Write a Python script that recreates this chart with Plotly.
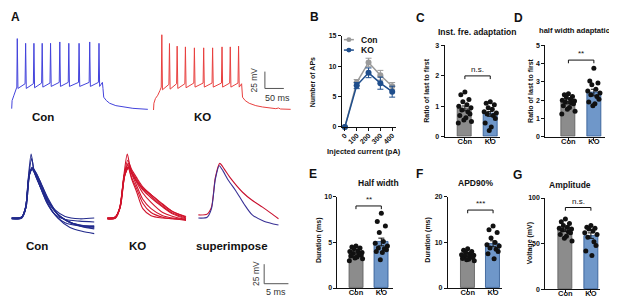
import plotly.graph_objects as go

W, H = 617, 297
FONT = "Liberation Sans, Arial, sans-serif"

# ---------------- DATA ----------------
# Panel A (top): representative spike trains, (time ms, Vm mV) vertices
con_train = [(0, -70), (1, -58), (6, -50), (11, -42), (13.5, -38), (14.7, 34), (16.5, -40),
             (35.3, -33), (36.8, 27), (38.5, -40), (57.2, -33), (58.7, 27), (60.4, -39),
             (79, -32), (80.5, 27), (82.2, -38), (101.1, -32), (102.6, 27), (104.3, -37),
             (125.5, -31), (127, 29), (128.7, -37), (149.3, -31), (150.8, 27), (152.5, -37),
             (176.4, -31), (177.9, 27), (179.6, -37), (204.5, -31), (206, 29), (207.7, -37),
             (229, -31), (230.5, 27), (232.2, -37), (239.5, -31), (241, -40), (243, -53),
             (250, -58), (258.7, -62), (275, -65.5), (293.7, -67.5), (320, -69.5), (359.5, -71)]
ko_train = [(0, -72), (1, -62), (5, -55), (11.3, -50), (17, -43), (20.4, -38), (21.9, 39.7), (23.6, -42),
            (40.6, -34), (42.1, 26.7), (43.8, -41), (60.9, -33), (62.4, 22.8), (64.1, -40),
            (82.7, -33), (84.2, 21.7), (85.9, -39), (106.4, -32), (107.9, 20.3), (109.6, -38),
            (130.9, -32), (132.4, 20.3), (134.1, -38), (154.5, -32), (156, 20.3), (157.7, -38),
            (179.3, -32), (180.8, 21.7), (182.5, -38), (201.1, -32), (202.6, 21.7), (204.3, -38),
            (223, -32), (224.5, 22.8), (226.2, -38), (232.5, -33), (235, -53), (242, -58),
            (252.6, -62), (270, -65.5), (287.6, -67.5), (322.7, -70), (330, -69), (335, -70.5), (362, -71)]

# Panel A (bottom): single action potentials (time ms, Vm mV)
con_aps = [
    [(0, -60), (2.0, -59), (2.8, -50), (3.4, -10), (4.0, 22), (4.6, 0), (5.5, -15), (7, -33), (9, -50), (11, -58), (14, -61), (17, -60)],
    [(0, -61), (2.0, -60), (2.8, -50), (3.4, -12), (4.1, 16), (4.7, -2), (5.5, -14), (7, -35), (9, -52), (11, -62), (14, -70), (17, -73)],
    [(0, -60), (2.0, -59), (2.9, -45), (3.6, -5), (4.2, 5), (5, -2), (6, -15), (7.5, -35), (9.5, -55), (11.5, -64), (14, -69), (17, -71)],
    [(0, -61), (2.0, -60), (2.9, -45), (3.6, -5), (4.2, 4), (5, -4), (6, -18), (7.5, -38), (9.5, -56), (11.5, -64), (14, -69), (17, -72)],
    [(0, -60), (2.1, -59), (3.0, -45), (3.7, -3), (4.3, 3), (5.1, -3), (6.2, -18), (7.8, -40), (10, -58), (12, -66), (14.5, -71), (17, -74)],
    [(0, -61), (2.1, -60), (3.0, -45), (3.7, -4), (4.3, 3), (5.1, -5), (6.2, -20), (7.5, -42), (9.5, -60), (12, -72), (14.5, -77), (17, -80)],
    [(0, -60), (2.0, -59), (2.9, -45), (3.6, -5), (4.2, 2), (5, -6), (6, -22), (7.2, -40), (9, -56), (11, -62), (14, -64), (17, -65)],
    [(0, -60), (2.0, -59), (2.9, -46), (3.6, -6), (4.2, 3), (5, -5), (6, -22), (7.4, -42), (9.2, -58), (11, -66), (14, -70), (17, -70)],
]
ko_aps = [
    [(0, -60), (1.5, -59), (2.5, -48), (3.4, -5), (4.1, 22), (4.7, 5), (5.5, -8), (7.3, -22), (9, -30), (11.4, -42), (13.5, -52), (16.2, -58)],
    [(0, -61), (1.5, -60), (2.5, -48), (3.4, -8), (4.2, 14), (5, 2), (6, -8), (7.3, -20), (9, -30), (11.4, -43), (13.5, -52), (16.2, -59)],
    [(0, -60), (1.6, -59), (2.6, -46), (3.5, -5), (4.3, 10), (5, 0), (6, -10), (7.3, -22), (9, -32), (11.4, -45), (13.5, -54), (16.2, -60)],
    [(0, -61), (1.6, -60), (2.6, -46), (3.5, -5), (4.3, 8), (5, -2), (6, -12), (7.3, -24), (9, -34), (11.4, -46), (13.5, -55), (16.2, -61)],
    [(0, -60), (1.7, -59), (2.7, -45), (3.6, -4), (4.4, 6), (5.1, -3), (6, -14), (7.3, -28), (9, -40), (11.4, -53), (13.5, -58), (16.2, -62)],
    [(0, -61), (1.7, -60), (2.7, -45), (3.6, -5), (4.4, 5), (5.1, -5), (6, -18), (7.3, -36), (9, -48), (11.4, -57), (13.5, -60), (16.2, -62)],
    [(0, -60), (1.6, -59), (2.6, -46), (3.5, -6), (4.3, 5), (5, -8), (6, -22), (7.3, -41), (9, -53), (11.4, -59), (13.5, -61), (16.2, -62)],
    [(0, -61), (1.6, -60), (2.6, -47), (3.5, -8), (4.3, 4), (5, -10), (6, -26), (7.3, -48), (9, -57), (11.4, -60), (13.5, -61), (16.2, -63)],
]
sup_con = [(0, -60), (1.8, -59), (2.7, -48), (3.5, -10), (4.3, 7), (5.1, 0), (6.2, -12), (7.7, -25), (9.4, -42), (11.1, -56), (13.5, -64), (16.5, -69)]
sup_ko = [(0, -56), (1.8, -55), (2.7, -46), (3.5, -8), (4.4, 10), (5.3, 3), (6.5, -8), (9.1, -27), (11, -37), (13.2, -46), (15, -54), (16.5, -61)]

# Panel B: number of APs vs injected current
currents = [0, 100, 200, 300, 400]
aps_con = [0, 7.3, 10.6, 8.5, 6.7]
aps_con_sem = [0, 0.5, 0.7, 0.8, 0.6]
aps_ko = [0, 6.8, 8.9, 7.2, 5.8]
aps_ko_sem = [0, 0.5, 0.8, 1.0, 0.9]

groups = ["Con", "KO"]
# Panel C: inst. frequency adaptation
C_con = [1.47, 1.38, 1.22, 1.15, 1.05, 1.0, 0.95, 0.88, 0.82, 0.75, 0.7, 0.62, 0.55, 0.5, 0.45]
C_ko = [1.15, 1.1, 1.05, 0.95, 0.9, 0.82, 0.78, 0.75, 0.7, 0.6, 0.45, 0.32, 0.2]
C_mean = [0.93, 0.75]
C_sem = [0.08, 0.08]
# Panel D: half width adaptation
D_con = [2.35, 2.3, 2.2, 2.15, 2.05, 2.0, 1.95, 1.9, 1.85, 1.8, 1.7, 1.6, 1.5, 1.4, 1.25]
D_ko = [3.75, 3.05, 2.95, 2.85, 2.6, 2.5, 2.4, 2.3, 2.2, 2.05, 1.9, 1.8, 1.7]
D_mean = [1.87, 2.42]
D_sem = [0.07, 0.18]
# Panel E: half width (ms)
E_con = [4.6, 4.5, 4.4, 4.3, 4.1, 4.0, 3.9, 3.8, 3.75, 3.6, 3.5, 3.4, 3.3, 3.2, 3.0]
E_ko = [8.2, 7.3, 6.8, 6.1, 5.1, 4.9, 4.6, 4.4, 4.3, 4.2, 4.0, 3.9, 3.1]
E_mean = [3.85, 5.05]
E_sem = [0.12, 0.42]
# Panel F: APD90% (ms)
F_con = [8.6, 8.3, 8.0, 7.8, 7.5, 7.3, 7.2, 7.0, 6.9, 6.7, 6.5, 6.3, 6.2, 6.0]
F_ko = [13.6, 12.8, 12.2, 11.0, 10.0, 9.5, 9.2, 8.8, 8.5, 8.0, 7.5, 6.4]
F_mean = [7.1, 9.7]
F_sem = [0.2, 0.65]
# Panel G: amplitude (mV)
G_con = [77, 74, 72, 70, 68, 67, 66, 65, 63, 62, 60, 58, 56, 53]
G_ko = [70, 68, 67, 66, 64, 62, 60, 57, 52, 48, 42, 37]
G_mean = [65.2, 58.8]
G_sem = [1.8, 3.0]

sig_labels = ["n.s.", "**", "**", "***", "n.s."]
sig_heights = [2.0, 4.2, 9.0, 17.1, 89.6]

# ---------------- HELPERS ----------------
def xd(a, b):
    return [a / W, b / W]

def yd(top, bottom):
    return [1 - bottom / H, 1 - top / H]

def px(x):
    return x / W

def py(y):
    return 1 - y / H

fig = go.Figure()
layout = dict(width=W, height=H, margin=dict(l=0, r=0, t=0, b=0),
              paper_bgcolor="white", plot_bgcolor="white", showlegend=False,
              font=dict(family=FONT, color="#111"))
annotations = []
shapes = []

def ann(text, x, y, size, bold=True, angle=0, xanchor="center", color="#111"):
    t = f"<b>{text}</b>" if bold else text
    annotations.append(dict(text=t, x=px(x), y=py(y), xref="paper", yref="paper",
                            showarrow=False, font=dict(size=size, family=FONT, color=color),
                            textangle=angle, xanchor=xanchor, yanchor="middle"))

hidden = dict(visible=False, showgrid=False, zeroline=False, fixedrange=True)

def add_hidden_axes(i, xdom, ydom, xr, yr):
    layout[f"xaxis{i}"] = dict(domain=xdom, range=xr, anchor=f"y{i}", **hidden)
    layout[f"yaxis{i}"] = dict(domain=ydom, range=yr, anchor=f"x{i}", **hidden)

def trace_line(pts, i, color, width, spline=False):
    t = [p[0] for p in pts]
    v = [p[1] for p in pts]
    fig.add_trace(go.Scatter(x=t, y=v, mode="lines", xaxis=f"x{i}", yaxis=f"y{i}",
                             line=dict(color=color, width=width,
                                       shape="spline" if spline else "linear",
                                       smoothing=0.7 if spline else None),
                             hoverinfo="skip", cliponaxis=False))

# ---------------- PANEL A ----------------
top_y = [-78.7, 44.5]
add_hidden_axes(1, xd(0, 140), yd(20, 105), [-4.5, 364], top_y)
add_hidden_axes(2, xd(140, 290), yd(20, 105), [-10.5, 384.2], top_y)
add_hidden_axes(3, xd(0, 90), yd(135, 235), [-0.35, 18.13], [-90, 35])
add_hidden_axes(4, xd(95, 185), yd(135, 235), [-0.55, 17.93], [-90, 35])
add_hidden_axes(5, xd(185, 290), yd(135, 290), [-0.82, 20.74], [-158.75, 35])

trace_line(con_train, 1, "#4343dc", 1.0)
trace_line(ko_train, 2, "#e8403f", 1.0)
for ap in con_aps:
    trace_line(ap, 3, "#222a8c", 1.1, spline=True)
for ap in ko_aps:
    trace_line(ap, 4, "#d0142c", 1.1, spline=True)
trace_line(sup_ko, 5, "#c8102e", 1.1, spline=True)
trace_line(sup_con, 5, "#3a3296", 1.1, spline=True)

# scale bars (25 mV / 50 ms top, 25 mV / 5 ms bottom)
SB_MV = 25
SB_MS_TOP = 50
SB_MS_BOT = 5
sb_top_t0, sb_top_v0 = 294, -40
fig.add_trace(go.Scatter(x=[sb_top_t0, sb_top_t0, sb_top_t0 + SB_MS_TOP],
                         y=[sb_top_v0 + SB_MV, sb_top_v0, sb_top_v0],
                         mode="lines", line=dict(color="#555", width=1),
                         xaxis="x2", yaxis="y2", hoverinfo="skip", cliponaxis=False))
sb_bot_t0, sb_bot_v0 = 13.55, -144.1
fig.add_trace(go.Scatter(x=[sb_bot_t0, sb_bot_t0, sb_bot_t0 + SB_MS_BOT],
                         y=[sb_bot_v0 + SB_MV, sb_bot_v0, sb_bot_v0],
                         mode="lines", line=dict(color="#555", width=1),
                         xaxis="x5", yaxis="y5", hoverinfo="skip", cliponaxis=False))

ann("25 mV", 245, 70, 8.5, bold=False, angle=-90, color="#333")
ann("50 ms", 268, 88, 9, bold=False, color="#333")
ann("25 mV", 246, 268, 8.5, bold=False, angle=-90, color="#333")
ann("5 ms", 267, 287, 9, bold=False, color="#333")
ann("Con", 33, 108, 11.5)
ann("KO", 193, 108, 11.5)
ann("Con", 27, 240, 11.5)
ann("KO", 128, 240, 11.5)
ann("superimpose", 223, 240, 11.5)

# ---------------- AXIS STYLE ----------------
axis_common = dict(showline=True, linecolor="#111", linewidth=1, ticks="outside",
                   ticklen=3, tickwidth=1, tickcolor="#111", showgrid=False,
                   zeroline=False, fixedrange=True,
                   tickfont=dict(size=7, family=FONT, color="#111", weight="bold"))

# ---------------- PANEL B ----------------
layout["xaxis6"] = dict(domain=xd(333, 387), range=[-25, 430], anchor="y6",
                        tickvals=currents, ticktext=[str(c) for c in currents],
                        tickangle=-45, ticklabelstandoff=-2, **axis_common)
layout["yaxis6"] = dict(domain=yd(24.3, 117.7), range=[0, 15], anchor="x6",
                        tickvals=[0, 5, 10, 15], **axis_common)
fig.add_trace(go.Scatter(x=currents, y=aps_con, mode="lines+markers", xaxis="x6", yaxis="y6",
                         line=dict(color="#9a9a9a", width=1.5),
                         marker=dict(size=6, color="#9a9a9a"),
                         error_y=dict(type="data", array=aps_con_sem, color="#9a9a9a",
                                      thickness=1, width=3),
                         cliponaxis=False, name="Con"))
fig.add_trace(go.Scatter(x=currents, y=aps_ko, mode="lines+markers", xaxis="x6", yaxis="y6",
                         line=dict(color="#1f4e8c", width=1.5),
                         marker=dict(size=6, color="#1f4e8c"),
                         error_y=dict(type="data", array=aps_ko_sem, color="#1f4e8c",
                                      thickness=1, width=3),
                         cliponaxis=False, name="KO"))
# legend (drawn)
for yy, col, lab in [(28.3, "#9a9a9a", "Con"), (39, "#1f4e8c", "KO")]:
    shapes.append(dict(type="line", xref="paper", yref="paper", x0=px(335), x1=px(345),
                       y0=py(yy), y1=py(yy), line=dict(color=col, width=1.5)))
    shapes.append(dict(type="circle", xref="paper", yref="paper", x0=px(337.5), x1=px(342.5),
                       y0=py(yy + 2.5), y1=py(yy - 2.5), fillcolor=col, line=dict(color=col, width=0)))
    ann(lab, 350, yy, 8.5, xanchor="left")
ann("Number of APs", 303, 72, 7, angle=-90)
ann("Injected current (pA)", 355, 143, 7.5)

# ---------------- BAR PANELS ----------------
def offsets(n):
    pattern = [0, -0.16, 0.16, -0.08, 0.08, -0.24, 0.24, -0.12, 0.12, 0.2, -0.2, 0.04, -0.04, 0.26, -0.26]
    return pattern[:n]

def bar_panel(i, xpx, ypx, xr, ymax, yticks, con_pts, ko_pts, means, sems, sig, sig_h, title, title_xy, ylab, ylab_xy,
              title_size=8.5):
    layout[f"xaxis{i}"] = dict(domain=xd(*xpx), range=xr, anchor=f"y{i}",
                               tickvals=[0, 1], ticktext=groups, ticklabelstandoff=-6,
                               **{**axis_common, "tickfont": dict(size=7.5, family=FONT, color="#111", weight="bold")})
    layout[f"yaxis{i}"] = dict(domain=yd(*ypx), range=[0, ymax], anchor=f"x{i}",
                               tickvals=yticks, **axis_common)
    fig.add_trace(go.Bar(x=[0, 1], y=means, width=0.55, xaxis=f"x{i}", yaxis=f"y{i}",
                         marker=dict(color=["#8c8c8c", "#6f97c9"],
                                     line=dict(color=["#5a5a5a", "#2b5590"], width=0.8)),
                         error_y=dict(type="data", array=sems, color="#111", thickness=1, width=3)))
    for gi, pts in enumerate([con_pts, ko_pts]):
        xs = [gi + o for o in offsets(len(pts))]
        fig.add_trace(go.Scatter(x=xs, y=pts, mode="markers", xaxis=f"x{i}", yaxis=f"y{i}",
                                 marker=dict(size=5, color="#111"), cliponaxis=False))
    d = ymax * 0.035
    fig.add_trace(go.Scatter(x=[0, 0, 1, 1], y=[sig_h - d, sig_h, sig_h, sig_h - d], mode="lines",
                             xaxis=f"x{i}", yaxis=f"y{i}", line=dict(color="#111", width=1),
                             cliponaxis=False))
    annotations.append(dict(text=sig, x=0.5, y=sig_h, xref=f"x{i}", yref=f"y{i}", showarrow=False,
                            yanchor="bottom", yshift=0,
                            font=dict(size=8, family=FONT, color="#111")))
    ann(title, title_xy[0], title_xy[1], title_size)
    ann(ylab, ylab_xy[0], ylab_xy[1], 7, angle=-90)

bar_panel(7, (436, 492), (34.3, 127.7), [-0.8, 1.40], 3, [0, 1, 2, 3], C_con, C_ko, C_mean, C_sem,
          sig_labels[0], sig_heights[0], "Inst. fre. adaptation", (469, 20), "Ratio of last to first", (417, 81))
bar_panel(8, (537, 597), (34.3, 127.7), [-0.91, 1.44], 5, [0, 1, 2, 3, 4, 5], D_con, D_ko, D_mean, D_sem,
          sig_labels[1], sig_heights[1], "half width adaptation", (569, 19), "Ratio of last to first", (521.5, 81),
          title_size=7.6)
bar_panel(9, (328.5, 384), (189.3, 282.7), [-0.73, 1.45], 10, [0, 5, 10], E_con, E_ko, E_mean, E_sem,
          sig_labels[2], sig_heights[2], "Half width", (370, 175), "Duration (ms)", (309.5, 233))
bar_panel(10, (439.3, 493.3), (189.3, 282.7), [-0.78, 1.34], 20, [0, 10, 20], F_con, F_ko, F_mean, F_sem,
          sig_labels[3], sig_heights[3], "APD90%", (467.5, 175), "Duration (ms)", (418.5, 233))
bar_panel(11, (537, 592), (190.5, 284), [-0.79, 1.36], 100, [0, 50, 100], G_con, G_ko, G_mean, G_sem,
          sig_labels[4], sig_heights[4], "Amplitude", (562, 177), "Voltage (mV)", (522.5, 237))

# panel letters
for lab, x, y in [("A", 5.5, 5), ("B", 305, 5), ("C", 411.5, 6), ("D", 510, 6),
                  ("E", 304, 165.5), ("F", 410.5, 165.5), ("G", 509, 166.5)]:
    ann(lab, x, y, 12)

layout["annotations"] = annotations
layout["shapes"] = shapes
layout["bargap"] = 0
fig.update_layout(**layout)
fig.write_html("out.html")
